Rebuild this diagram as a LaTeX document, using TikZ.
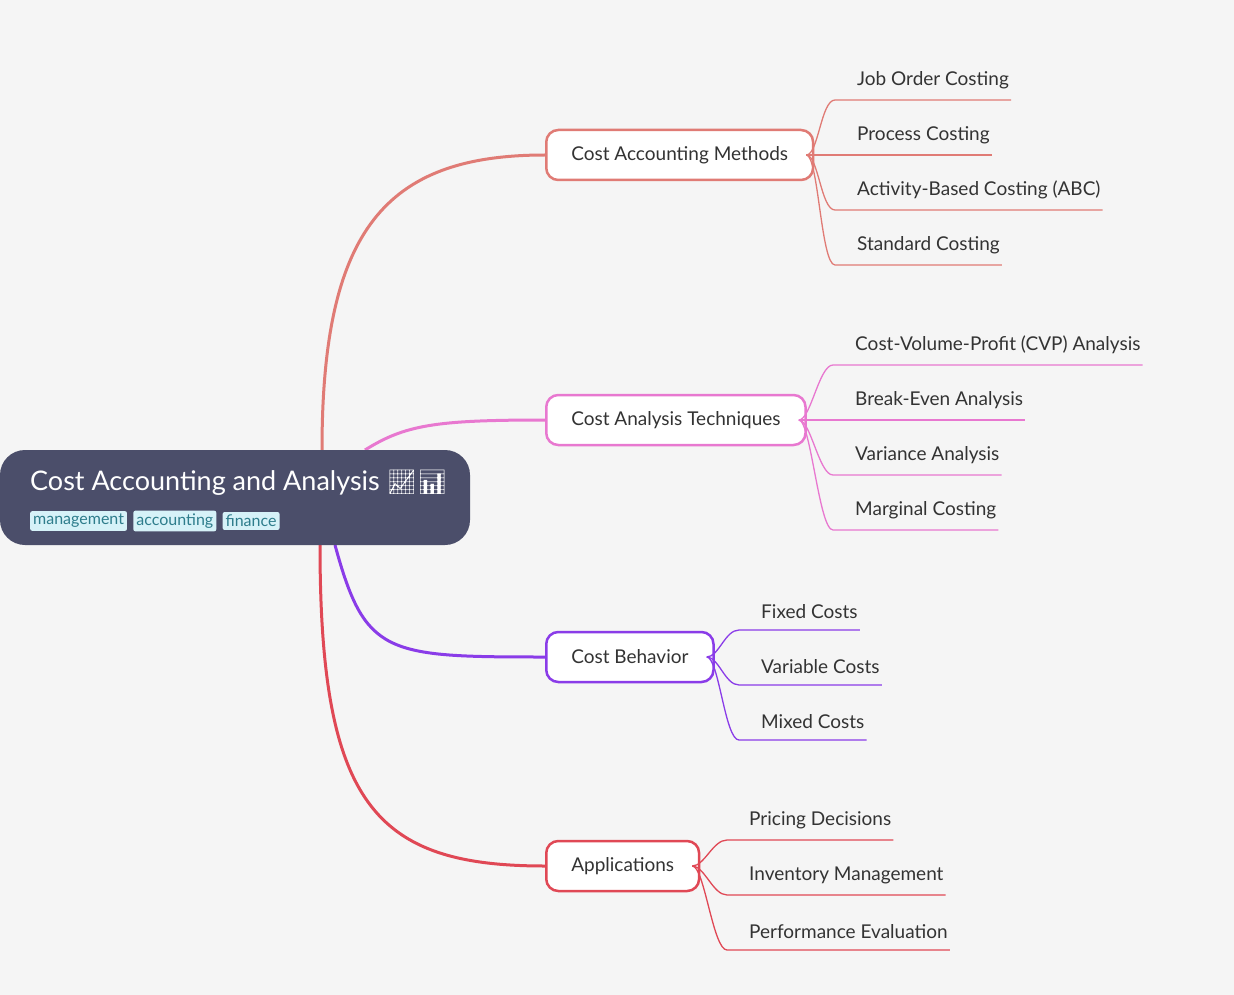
\documentclass[tikz,border=0pt]{standalone}
\usepackage{fontspec}
\setmainfont{Lato}
\newfontfamily\emojifont{Noto Emoji}
\usetikzlibrary{positioning, calc}
\definecolor{bgcol}{HTML}{F5F5F5}
\definecolor{rootcol}{HTML}{4B4E6A}
\definecolor{tagcol}{HTML}{D6F2F8}
\definecolor{tagtext}{HTML}{2E7D8C}
\definecolor{methcol}{HTML}{E07B75}
\definecolor{techcol}{HTML}{E878D0}
\definecolor{behcol}{HTML}{8A3CE8}
\definecolor{appcol}{HTML}{E04855}
\definecolor{textcol}{HTML}{333333}
\begin{document}
\begin{tikzpicture}[x=1pt, y=-1pt,
    branch/.style={draw, line width=2.5pt, fill=white, rounded corners=12pt, minimum height=50pt, inner xsep=25pt, anchor=west, text=textcol, font=\fontsize{19}{22}\selectfont},
    leaf/.style={anchor=south west, inner xsep=2pt, inner ysep=11pt, text=textcol, font=\fontsize{19}{22}\selectfont},
    tag/.style={fill=tagcol, text=tagtext, rounded corners=2pt, inner xsep=3pt, inner ysep=3pt, font=\fontsize{16}{18}\selectfont, anchor=west}]
	% Background
	\fill[bgcol] (0,0) rectangle (1234,995);
	
	% Branch nodes
	\node[branch, draw=methcol] (meth) at (545,155) {Cost Accounting Methods};
	\node[branch, draw=techcol] (tech) at (545,420) {Cost Analysis Techniques};
	\node[branch, draw=behcol] (beh) at (545,657) {Cost Behavior};
	\node[branch, draw=appcol] (app) at (545,866) {Applications};
	
	% Main connectors
	\coordinate (r1) at (322,450);
	\coordinate (r2) at (365,450);
	\coordinate (r3) at (335,545);
	\coordinate (r4) at (320,545);
	\draw[methcol, line width=3pt] (r1) .. controls +(0,-220) and +(-160,0) .. (meth.west);
	\draw[techcol, line width=3pt] (r2) .. controls +(40,-25) and +(-110,0) .. (tech.west);
	\draw[behcol, line width=3pt] (r3) .. controls +(30,110) and +(-160,0) .. (beh.west);
	\draw[appcol, line width=3pt] (r4) .. controls +(0,260) and +(-170,0) .. (app.west);
	
	% Root
	\fill[rootcol, rounded corners=25pt] (0,450) rectangle (470,545);
	\node[anchor=base west, text=white, inner sep=0pt, font=\fontsize{27}{30}\selectfont] (root) at (30,490) {Cost Accounting and Analysis {\emojifont\fontsize{24}{28}\selectfont 📈📊}};
	\node[tag] (t1) at (30,521) {management};
	\node[tag, right=6pt of t1] (t2) {accounting};
	\node[tag, right=6pt of t2] (t3) {finance};
	
	% Leaves of methods
	\node[leaf] (m1) at (855,100) {Job Order Costing};
	\node[leaf] (m2) at (855,155) {Process Costing};
	\node[leaf] (m3) at (855,210) {Activity-Based Costing (ABC)};
	\node[leaf] (m4) at (855,265) {Standard Costing};
	% Leaves of techniques
	\node[leaf] (c1) at (853,365) {Cost-Volume-Profit (CVP) Analysis};
	\node[leaf] (c2) at (853,420) {Break-Even Analysis};
	\node[leaf] (c3) at (853,475) {Variance Analysis};
	\node[leaf] (c4) at (853,530) {Marginal Costing};
	% Leaves of behavior
	\node[leaf] (b1) at (759,630) {Fixed Costs};
	\node[leaf] (b2) at (759,685) {Variable Costs};
	\node[leaf] (b3) at (759,740) {Mixed Costs};
	% Leaves of applications
	\node[leaf] (a1) at (747,840) {Pricing Decisions};
	\node[leaf] (a2) at (747,895) {Inventory Management};
	\node[leaf] (a3) at (747,950) {Performance Evaluation};
	
	% Leaf connectors
	\foreach \hub/\col/\list in {meth/methcol/{m1,m2,m3,m4}, tech/techcol/{c1,c2,c3,c4}, beh/behcol/{b1,b2,b3}, app/appcol/{a1,a2,a3}}
	  \foreach \lf in \list
	    \draw[\col, line width=1.3pt] ([xshift=-8pt]\hub.east) .. controls +(12,0) and +(-14,0) .. ([xshift=-20pt]\lf.south west) -- (\lf.south east);
\end{tikzpicture}
\end{document}
